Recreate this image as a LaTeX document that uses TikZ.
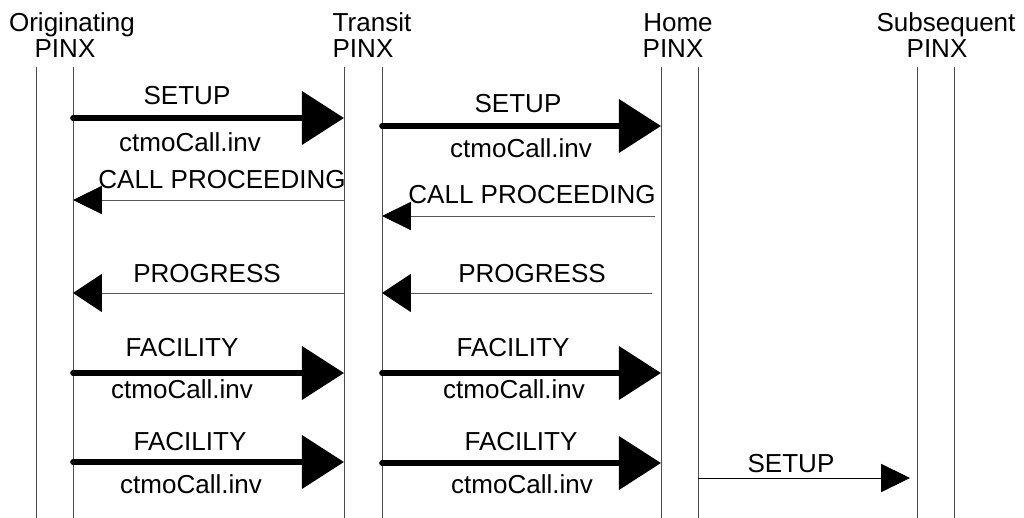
\documentclass[tikz,border=0pt]{standalone}
\usepackage{fontspec}
\setmainfont{Liberation Sans}
\usepackage{tikz}
\usetikzlibrary{arrows.meta, calc, positioning}

\tikzset{
  lbl/.style={inner sep=0pt, anchor=base, font=\fontsize{18.5}{19}\selectfont},
  life/.style={draw=black!70, line width=0.7pt},
  bigmsg/.style={line width=4pt, line cap=round, -{Triangle[length=30pt,width=37.5pt]}},
  thinmsg/.style={draw=black!65, line width=0.7pt, -{Triangle[length=20.5pt,width=20pt,color=black]}},
  widemsg/.style={draw=black!65, line width=0.7pt, -{Triangle[length=20.5pt,width=27pt,color=black]}}
}

\begin{document}
\begin{tikzpicture}[x=0.025cm, y=-0.025cm]
					\useasboundingbox (0,0) rectangle (1024,518);

					% entities
					\node[lbl] (origName) at (72,32) {Originating};
					\node[lbl] (origPinx) at (65,58) {PINX};
					\node[lbl] (tranName) at (372,32) {Transit};
					\node[lbl] (tranPinx) at (363,58) {PINX};
					\node[lbl] (homeName) at (678,32) {Home};
					\node[lbl] (homePinx) at (673,58) {PINX};
					\node[lbl] (subsName) at (946,32) {Subsequent};
					\node[lbl] (subsPinx) at (937,58) {PINX};

					% lifelines
					\coordinate (oL) at (36,67);
					\coordinate (oR) at (73,67);
					\coordinate (tL) at (344,67);
					\coordinate (tR) at (382,67);
					\coordinate (hL) at (661,67);
					\coordinate (hR) at (698,67);
					\coordinate (sL) at (917,67);
					\coordinate (sR) at (954,67);
					\draw[life] (oL) -- (oL |- 0,518);
					\draw[life] (oR) -- (oR |- 0,518);
					\draw[life] (tL) -- (tL |- 0,518);
					\draw[life] (tR) -- (tR |- 0,518);
					\draw[life] (hL) -- (hL |- 0,518);
					\draw[life] (hR) -- (hR |- 0,518);
					\draw[life] (sL) -- (sL |- 0,518);
					\draw[life] (sR) -- (sR |- 0,518);

					% SETUP
					\draw[bigmsg] (oR |- 0,118) -- (tL |- 0,118);
					\node[lbl] (setupA) at (187,105) {SETUP};
					\node[lbl] (invA) at (190,151) {ctmoCall.inv};
					\draw[bigmsg] (tR |- 0,126) -- (hL |- 0,126);
					\node[lbl] (setupB) at (518,113) {SETUP};
					\node[lbl] (invB) at (521,157) {ctmoCall.inv};

					% CALL PROCEEDING
					\draw[thinmsg] (tL |- 0,200) -- (oR |- 0,200);
					\node[lbl] (procA) at (222,188) {CALL PROCEEDING};
					\coordinate (procStart) at (655,216);
					\draw[thinmsg] (procStart) -- (tR |- 0,216);
					\node[lbl] (procB) at (532,203) {CALL PROCEEDING};

					% PROGRESS
					\draw[widemsg] (tL |- 0,293) -- (oR |- 0,293);
					\node[lbl] (progA) at (207,282) {PROGRESS};
					\coordinate (progStart) at (652,293);
					\draw[widemsg] (progStart) -- (tR |- 0,293);
					\node[lbl] (progB) at (532,282) {PROGRESS};

					% FACILITY
					\draw[bigmsg] (oR |- 0,373) -- (tL |- 0,373);
					\node[lbl] (facA) at (182,356) {FACILITY};
					\node[lbl] (invC) at (182,398) {ctmoCall.inv};
					\draw[bigmsg] (tR |- 0,373) -- (hL |- 0,373);
					\node[lbl] (facB) at (513,356) {FACILITY};
					\node[lbl] (invD) at (514,398) {ctmoCall.inv};

					\draw[bigmsg] (oR |- 0,462) -- (tL |- 0,462);
					\node[lbl] (facC) at (190,450) {FACILITY};
					\node[lbl] (invE) at (191,493) {ctmoCall.inv};
					\draw[bigmsg] (tR |- 0,463) -- (hL |- 0,463);
					\node[lbl] (facD) at (521,450) {FACILITY};
					\node[lbl] (invF) at (522,493) {ctmoCall.inv};

					% SETUP onwards
					\coordinate (setupEnd) at (910,478);
					\draw[thinmsg, draw=black] (hR |- 0,478) -- (setupEnd);
					\node[lbl] (setupC) at (791,472) {SETUP};
				\end{tikzpicture}
\end{document}
